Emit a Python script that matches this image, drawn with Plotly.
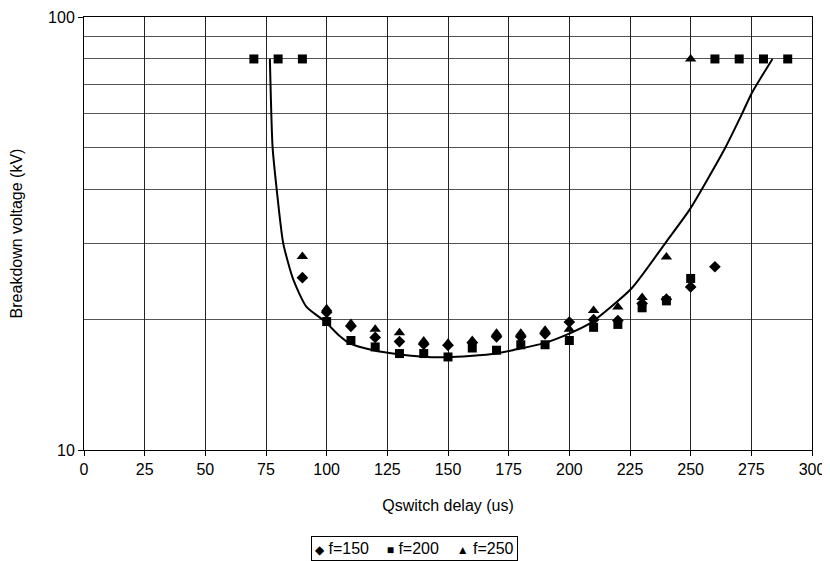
import plotly.graph_objects as go

# f=150 (diamonds)
x150 = [90, 100, 110, 120, 130, 140, 150, 160, 170, 180, 190, 200, 210, 220, 230, 240, 250, 260]
y150 = [25.0, 20.8, 19.3, 18.2, 17.8, 17.55, 17.45, 17.7, 18.25, 18.25, 18.55, 19.75, 20.0, 19.9, 21.8, 22.3, 23.8, 26.5]

# f=200 (squares)
x200 = [70, 80, 90, 100, 110, 120, 130, 140, 150, 160, 170, 180, 190, 200, 210, 220, 230, 240, 250, 260, 270, 280, 290]
y200 = [80, 80, 80, 19.8, 17.9, 17.3, 16.7, 16.7, 16.4, 17.2, 17.0, 17.5, 17.5, 17.9, 19.2, 19.5, 21.3, 22.1, 24.9, 80, 80, 80, 80]

# f=250 (triangles)
x250 = [90, 100, 110, 120, 130, 140, 150, 160, 170, 180, 190, 200, 210, 220, 230, 240, 250]
y250 = [28.0, 21.2, 19.6, 19.0, 18.65, 17.85, 17.65, 17.9, 18.6, 18.6, 18.9, 19.0, 21.0, 21.4, 22.5, 27.9, 80]

# fitted trend curve
curve_x = [76.6, 77.7, 79.4, 82.1, 86.3, 91.7, 99.3, 105.5, 109.6, 119.2, 128.8, 139.8, 149.4,
           159, 170, 178.3, 189.3, 200.2, 208.5, 225.6, 240, 249.7, 264.1, 271, 275.1, 283.7]
curve_y = [80, 50.2, 40, 30, 24.7, 21.4, 19.8, 18.3, 17.6, 17.0, 16.66, 16.42, 16.38,
           16.48, 16.7, 17.08, 17.63, 18.6, 19.6, 23.6, 30.3, 36.0, 49.7, 59.5, 66.6, 80]

x_ticks = [0, 25, 50, 75, 100, 125, 150, 175, 200, 225, 250, 275, 300]
y_ticks = [10, 100]
y_minor = [20, 30, 40, 50, 60, 70, 80, 90]
legend_names = ["f=150", "f=200", "f=250"]
legend_symbols = ["◆", "■", "▲"]

font = "Liberation Sans, Arial, sans-serif"

fig = go.Figure()
fig.add_trace(go.Scatter(x=curve_x, y=curve_y, mode="lines",
                         line=dict(color="black", width=2, shape="spline", smoothing=0.6),
                         showlegend=False, hoverinfo="skip"))
fig.add_trace(go.Scatter(x=x150, y=y150, mode="markers", name=legend_names[0], showlegend=False,
                         marker=dict(symbol="diamond", size=9, color="black")))
fig.add_trace(go.Scatter(x=x200, y=y200, mode="markers", name=legend_names[1], showlegend=False,
                         marker=dict(symbol="square", size=9, color="black")))
fig.add_trace(go.Scatter(x=x250, y=y250, mode="markers", name=legend_names[2], showlegend=False,
                         marker=dict(symbol="triangle-up", size=10, color="black")))

gap = "&nbsp;" * 4
legend_text = gap.join(
    f'<span style="font-size:12px">{s}</span> {n}' for s, n in zip(legend_symbols, legend_names)
)
fig.add_annotation(text=legend_text, xref="paper", yref="paper", x=0.454, y=-0.2275,
                   xanchor="center", yanchor="middle", showarrow=False,
                   font=dict(family=font, size=16, color="black"),
                   bordercolor="black", borderwidth=1, borderpad=3, bgcolor="white")

# page body has an 8px default margin; figure is sized to fit the 830x561 window
fig.update_layout(
    width=822, height=553,
    margin=dict(l=76, r=18, t=9, b=111),
    paper_bgcolor="white", plot_bgcolor="white",
    font=dict(family=font, size=16, color="black"),
    showlegend=False,
    xaxis=dict(range=[0, 300], tickvals=x_ticks, ticks="outside", ticklen=5, tickcolor="black",
               showline=True, linecolor="black", linewidth=1, mirror=True, automargin=False,
               showgrid=True, gridcolor="#222", gridwidth=1, zeroline=False,
               tickfont=dict(size=16),
               title=dict(text="Qswitch delay (us)", standoff=22, font=dict(size=16))),
    yaxis=dict(type="log", range=[1, 2], tickvals=y_ticks, ticktext=["10", "100"], ticks="outside", ticklen=5,
               tickcolor="black", showline=True, linecolor="black", linewidth=1, mirror=True, automargin=False,
               showgrid=True, gridcolor="#222", gridwidth=1, zeroline=False,
               tickfont=dict(size=16),
               minor=dict(tickvals=y_minor, showgrid=True, gridcolor="#555", gridwidth=1, ticks=""),
               title=dict(text="Breakdown voltage (kV)", standoff=22, font=dict(size=16))),
)

fig.write_html("out.html")
